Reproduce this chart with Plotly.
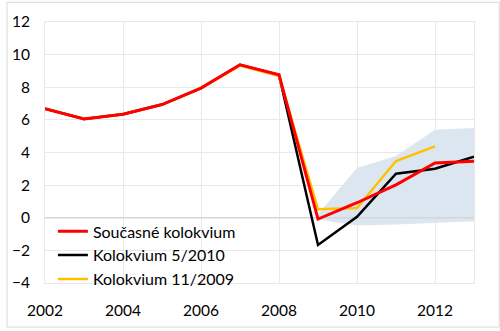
import plotly.graph_objects as go

years = [2002, 2003, 2004, 2005, 2006, 2007, 2008, 2009, 2010, 2011, 2012, 2013]
current = [6.68, 6.06, 6.35, 6.94, 7.95, 9.38, 8.77, -0.08, 0.92, 2.02, 3.36, 3.47]
kol_5_2010 = [6.68, 6.06, 6.35, 6.94, 7.95, 9.38, 8.75, -1.67, 0.06, 2.7, 3.0, 3.74]
years_11_2009 = [2002, 2003, 2004, 2005, 2006, 2007, 2008, 2009, 2010, 2011, 2012]
kol_11_2009 = [6.68, 6.06, 6.35, 6.94, 7.95, 9.33, 8.68, 0.52, 0.6, 3.48, 4.38]

fan_years = [2009, 2010, 2011, 2012, 2013]
fan_upper = [0.22, 3.05, 3.78, 5.4, 5.5]
fan_lower = [-0.1, -0.48, -0.42, -0.32, -0.22]

x_ticks = [2002, 2004, 2006, 2008, 2010, 2012]
y_ticks = [-4, -2, 0, 2, 4, 6, 8, 10, 12]

names = ["Současné kolokvium", "Kolokvium 5/2010", "Kolokvium 11/2009"]

FONT = "Lato"
GRID = "#e9e9e9"

fig = go.Figure()

# fan band
fig.add_trace(go.Scatter(x=fan_years, y=fan_lower, mode="lines", line=dict(width=0),
                         showlegend=False, hoverinfo="skip"))
fig.add_trace(go.Scatter(x=fan_years, y=fan_upper, mode="lines", line=dict(width=0),
                         fill="tonexty", fillcolor="#dce6f0", showlegend=False, hoverinfo="skip"))
# zero reference line above the band
fig.add_trace(go.Scatter(x=[years[0], years[-1]], y=[0, 0], mode="lines",
                         line=dict(color="#d3d6db", width=1.5), showlegend=False, hoverinfo="skip"))

fig.add_trace(go.Scatter(x=years, y=kol_5_2010, mode="lines", name=names[1], legendrank=2,
                         line=dict(color="#000000", width=2.5)))
fig.add_trace(go.Scatter(x=years_11_2009, y=kol_11_2009, mode="lines", name=names[2], legendrank=3,
                         line=dict(color="#ffc000", width=2.5)))
fig.add_trace(go.Scatter(x=years, y=current, mode="lines", name=names[0], legendrank=1,
                         line=dict(color="#ff0000", width=3)))

L, R, T, B = 39, 26, 20.5, 45.3
W, H = 500, 331
pw, ph = W - L - R, H - T - B

fig.update_layout(
    width=W, height=H,
    margin=dict(l=L, r=R, t=T, b=B, pad=0),
    paper_bgcolor="white", plot_bgcolor="white",
    font=dict(family=FONT, size=15.5, color="#000000"),
    xaxis=dict(range=[2002, 2013], tickvals=x_ticks, showgrid=True, gridcolor=GRID, gridwidth=1,
               zeroline=False, showline=True, linecolor=GRID, mirror=True, ticks="",
               ticklabelstandoff=13, tickfont=dict(family=FONT, size=15.5)),
    yaxis=dict(range=[-4, 12], tickvals=y_ticks, showgrid=True, gridcolor=GRID, gridwidth=1,
               zeroline=False, showline=True, linecolor=GRID, mirror=True, ticks="",
               ticklabelstandoff=11, tickfont=dict(family=FONT, size=15.5)),
    legend=dict(x=(47 - L) / pw, y=(H - B - 216) / ph, xanchor="left", yanchor="top",
                bgcolor="rgba(0,0,0,0)", borderwidth=0, font=dict(family=FONT, size=16),
                tracegroupgap=0, itemwidth=30, traceorder="normal"),
    showlegend=True,
)

# white legend backdrop (covers gridlines, sits under traces)
fig.add_shape(type="rect", xref="paper", yref="paper",
              x0=(42 - L) / pw, x1=(250 - L) / pw,
              y0=(H - B - 284.5) / ph, y1=(H - B - 221) / ph,
              line=dict(width=0), fillcolor="white", layer="between")

# outer chart border
fig.add_shape(type="rect", xref="paper", yref="paper",
              x0=(0.5 - L) / pw, x1=(W - 0.5 - L) / pw,
              y0=-(B - 0.5) / ph, y1=(H - B - 0.5) / ph,
              line=dict(color="#d9d9d9", width=1), fillcolor="rgba(0,0,0,0)", layer="above")

fig.write_html("out.html")
